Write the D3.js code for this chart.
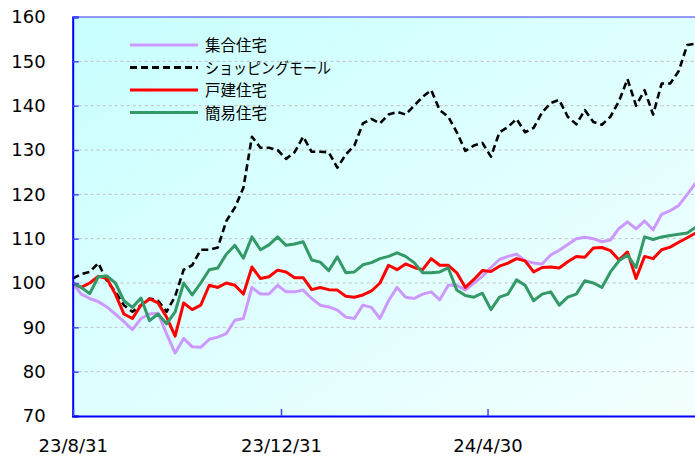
<!DOCTYPE html>
<html>
<head>
<meta charset="utf-8">
<script src="https://cdn.jsdelivr.net/npm/d3@7"></script>
<style>
  html, body { margin: 0; padding: 0; background: #fff; }
  svg { display: block; }
</style>
</head>
<body>
<div id="chart"></div>
<script>
// Price index chart, base 100 on 23/8/31

const dates = [
  "2023-08-31","2023-09-05","2023-09-10","2023-09-15","2023-09-20","2023-09-25","2023-09-30",
  "2023-10-05","2023-10-10","2023-10-15","2023-10-20","2023-10-25","2023-10-30",
  "2023-11-04","2023-11-09","2023-11-14","2023-11-19","2023-11-24","2023-11-29",
  "2023-12-04","2023-12-09","2023-12-14","2023-12-19","2023-12-24","2023-12-29",
  "2024-01-03","2024-01-08","2024-01-13","2024-01-18","2024-01-23","2024-01-28",
  "2024-02-02","2024-02-07","2024-02-12","2024-02-17","2024-02-22","2024-02-27",
  "2024-03-03","2024-03-08","2024-03-13","2024-03-18","2024-03-23","2024-03-28",
  "2024-04-02","2024-04-07","2024-04-12","2024-04-17","2024-04-22","2024-04-27",
  "2024-05-02","2024-05-07","2024-05-12","2024-05-17","2024-05-22","2024-05-27",
  "2024-06-01","2024-06-06","2024-06-11","2024-06-16","2024-06-21","2024-06-26",
  "2024-07-01","2024-07-06","2024-07-11","2024-07-16","2024-07-21","2024-07-26","2024-07-31",
  "2024-08-05","2024-08-10","2024-08-15","2024-08-20","2024-08-25","2024-08-30"
];

const apartment = [
  100, 97.5, 96.5, 95.8, 94.6, 93, 91.3, 89.5, 92, 93,
  93.2, 88.5, 84.2, 87.5, 85.6, 85.5, 87.3, 87.8, 88.6, 91.6,
  92, 99, 97.5, 97.5, 99.5, 98, 98, 98.4, 96.5, 95,
  94.6, 93.9, 92.3, 92, 95, 94.5, 92, 96, 99, 96.8,
  96.5, 97.5, 98, 96.2, 99.5, 99.5, 98.4, 100, 101.5, 103.5,
  105.3, 106, 106.5, 105, 104.5, 104.3, 106.3, 107.4, 108.7, 110,
  110.3, 110, 109.3, 109.7, 112.3, 113.8, 112.2, 114, 112, 115.5,
  116.3, 117.5, 120, 122.6
];

const mall = [
  101, 102, 102.5, 104.5, 100.5, 98, 95, 93.5, 95, 96.5,
  96, 93.5, 97, 103, 104, 107.5, 107.5, 108, 114, 117,
  121.5, 133, 130.5, 130.5, 130, 128, 129.5, 133, 129.6, 129.6,
  129.5, 126, 129, 131, 136, 137, 136, 138, 138.6, 138,
  140, 142, 143.5, 139, 137.5, 134, 129.8, 131, 131.6, 128.5,
  134, 135.2, 137, 134, 135, 138.5, 140.6, 141.3, 137.5, 135.8,
  139, 136.3, 135.7, 137.5, 141, 146, 140, 143.5, 138, 145,
  145, 147.8, 153.7, 154
];

const detached = [
  100, 99, 100, 101.5, 101, 97.5, 93, 92, 95, 96.4,
  95.5, 92.3, 88, 95.5, 94, 95, 99.5, 99, 100, 99.5,
  97.5, 103.6, 101, 101.4, 102.9, 102.5, 101.2, 101.2, 98.5, 99,
  98.5, 98.4, 97, 96.8, 97.3, 98.2, 100, 104, 103, 104.3,
  103.5, 103, 105.5, 104, 104, 102.3, 99, 100.8, 102.8, 102.6,
  103.8, 104.5, 105.5, 105, 102.5, 103.5, 103.6, 103.4, 104.8, 106,
  105.8, 107.9, 108, 107.3, 105.2, 107, 101, 106, 105.5, 107.5,
  108.1, 109.2, 110.2, 111.3
];

const simple = [
  100, 99, 97.6, 101.4, 101.6, 100, 96, 94.5, 96.6, 91.5,
  93, 90.8, 93.5, 100, 97.3, 100, 103, 103.4, 106.5, 108.5,
  105.6, 110.4, 107.5, 108.6, 110.4, 108.5, 108.8, 109.3, 105.2, 104.7,
  102.8, 105.9, 102.3, 102.5, 104.1, 104.6, 105.5, 106, 106.8, 106,
  104.6, 102.3, 102.3, 102.5, 103.4, 98.4, 97.2, 96.8, 97.7, 94,
  96.8, 97.5, 100.7, 99.5, 96, 97.5, 98, 95, 96.8, 97.5,
  100.5, 100, 99, 102.5, 105, 106.3, 103.5, 110.4, 109.8, 110.4,
  110.7, 111, 111.3, 112.6
];

const seriesNames = ["集合住宅", "ショッピングモール", "戸建住宅", "簡易住宅"];
const seriesColors = ["#cc99ff", "#000000", "#ff0000", "#339966"];
const seriesDash = [null, "7,4", null, null];
const seriesValues = [apartment, mall, detached, simple];

const yTicks = [70, 80, 90, 100, 110, 120, 130, 140, 150, 160];
const xTickDates = ["2023-08-31", "2023-12-31", "2024-04-30"];
const xTickLabels = ["23/8/31", "23/12/31", "24/4/30"];

const width = 695, height = 459;
const margin = { top: 17, left: 72.7, bottom: 43 };
const plotRight = 695.8;

const parse = d3.timeParse("%Y-%m-%d");
const parsedDates = dates.map(parse);

const x = d3.scaleTime()
  .domain([parse("2023-08-31"), parse("2024-08-30")])
  .range([margin.left, plotRight]);

const y = d3.scaleLinear()
  .domain([70, 160])
  .range([height - margin.bottom, margin.top]);

const svg = d3.select("#chart").append("svg")
  .attr("width", width)
  .attr("height", height);

// background gradient
const defs = svg.append("defs");
const grad = defs.append("linearGradient")
  .attr("id", "bg")
  .attr("x1", "0%").attr("y1", "0%")
  .attr("x2", "100%").attr("y2", "100%");
grad.append("stop").attr("offset", "0%").attr("stop-color", "#c8ffff");
grad.append("stop").attr("offset", "100%").attr("stop-color", "#f4ffff");

svg.append("rect")
  .attr("x", margin.left)
  .attr("y", margin.top)
  .attr("width", plotRight - margin.left)
  .attr("height", y(70) - margin.top)
  .attr("fill", "url(#bg)");

// grid lines
svg.append("g")
  .selectAll("line")
  .data(yTicks.filter(d => d > 70 && d < 160))
  .join("line")
  .attr("x1", margin.left)
  .attr("x2", plotRight)
  .attr("y1", d => y(d))
  .attr("y2", d => y(d))
  .attr("stroke", "#c0c0c0")
  .attr("stroke-width", 1)
  .attr("stroke-dasharray", "3,3");

// lines
const line = d3.line()
  .x((d, i) => x(parsedDates[i]))
  .y(d => y(d));

seriesValues.forEach((vals, i) => {
  svg.append("path")
    .datum(vals)
    .attr("fill", "none")
    .attr("stroke", seriesColors[i])
    .attr("stroke-width", i === 1 ? 2.6 : 3)
    .attr("stroke-linejoin", "round")
    .attr("stroke-dasharray", seriesDash[i])
    .attr("d", line);
});

// top border
svg.append("line")
  .attr("x1", margin.left).attr("x2", plotRight)
  .attr("y1", margin.top).attr("y2", margin.top)
  .attr("stroke", "#3333ff").attr("stroke-width", 1);

// y axis
const yAxis = svg.append("g")
  .attr("transform", `translate(${margin.left},0)`)
  .call(d3.axisLeft(y).tickValues(yTicks).tickSize(-6).tickPadding(27));
yAxis.select(".domain").attr("stroke", "#0000ff").attr("stroke-width", 2);
yAxis.selectAll(".tick line").attr("stroke", "#4444ff").attr("stroke-width", 1.5);
yAxis.selectAll(".tick text")
  .attr("fill", "#000")
  .style("font-family", "'DejaVu Sans', Verdana, sans-serif")
  .style("font-size", "18px");

// x axis
const xAxis = svg.append("g")
  .attr("transform", `translate(0,${y(70)})`)
  .call(d3.axisBottom(x)
    .tickValues(xTickDates.map(parse))
    .tickFormat((d, i) => xTickLabels[i])
    .tickSize(-7)
    .tickPadding(23));
xAxis.select(".domain").attr("stroke", "#0000ff").attr("stroke-width", 2);
xAxis.selectAll(".tick line").attr("stroke", "#4444ff").attr("stroke-width", 1.5);
xAxis.selectAll(".tick text")
  .attr("fill", "#000")
  .style("font-family", "'DejaVu Sans', Verdana, sans-serif")
  .style("font-size", "18px");

// legend
const legend = svg.append("g").attr("transform", "translate(130,45)");
seriesNames.forEach((name, i) => {
  const row = legend.append("g").attr("transform", `translate(0,${i * 22.5})`);
  row.append("line")
    .attr("x1", 0).attr("x2", 68)
    .attr("stroke", seriesColors[i])
    .attr("stroke-width", 3)
    .attr("stroke-dasharray", seriesDash[i]);
  const t = row.append("text")
    .attr("x", 75)
    .attr("y", 6)
    .style("font-family", "'Noto Sans CJK JP', sans-serif")
    .style("font-size", "15.5px")
    .attr("fill", "#000")
    .text(name);
  if (i === 1) t.attr("textLength", 126).attr("lengthAdjust", "spacingAndGlyphs");
});
</script>
</body>
</html>
